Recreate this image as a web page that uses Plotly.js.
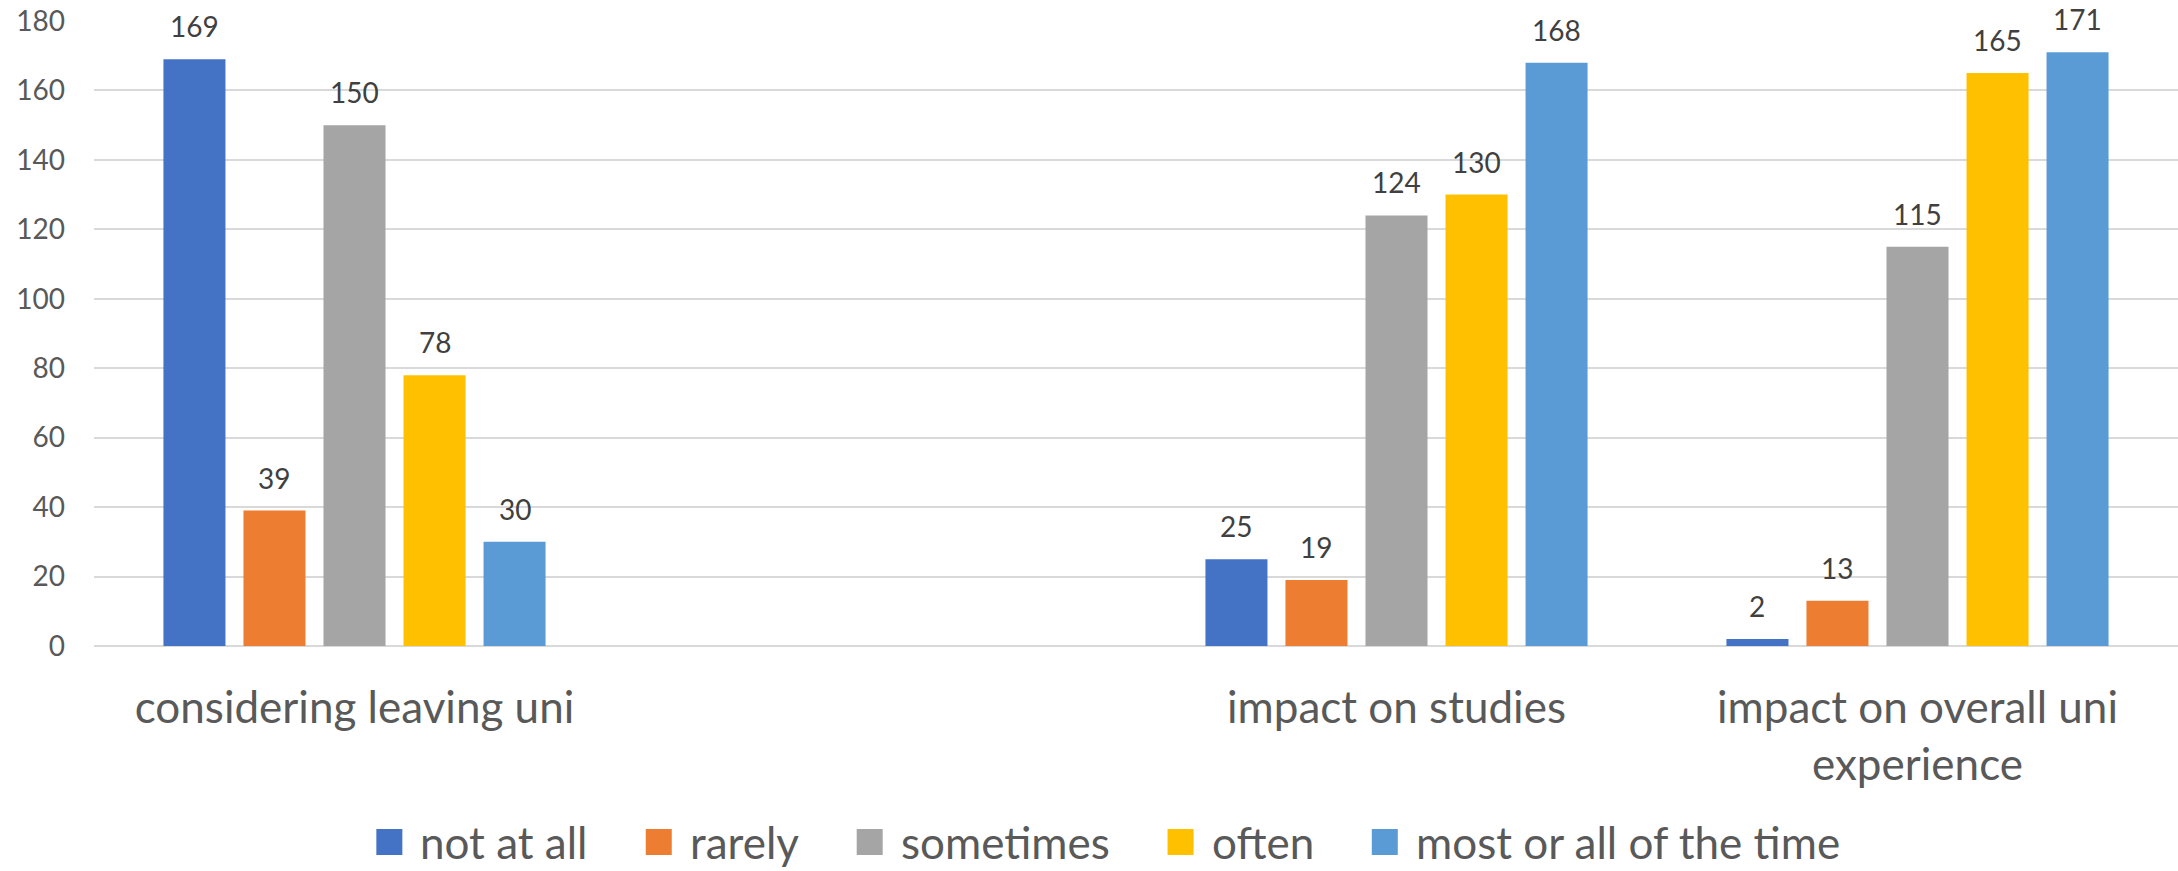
<!DOCTYPE html>
<html>
<head>
<meta charset="utf-8">
<script src="https://cdn.plot.ly/plotly-3.0.1.min.js"></script>
<style>
  html, body { margin: 0; padding: 0; background: #ffffff; }
  #chart { width: 2178px; height: 871px; }
</style>
</head>
<body>
<div id="chart"></div>
<script>
// Survey responses grouped by question; the second slot is an intentional empty spacer category.
const categories = ["considering leaving uni", " ", "impact on studies", "impact on overall uni<br>experience"];
const seriesNames = ["not at all", "rarely", "sometimes", "often", "most or all of the time"];
const notAtAll  = [169, null, 25, 2];
const rarely    = [39, null, 19, 13];
const sometimes = [150, null, 124, 115];
const often     = [78, null, 130, 165];
const mostOrAll = [30, null, 168, 171];
const yTicks = [0, 20, 40, 60, 80, 100, 120, 140, 160, 180];

const seriesValues = [notAtAll, rarely, sometimes, often, mostOrAll];
const colors = ["#4472C4", "#ED7D31", "#A5A5A5", "#FFC000", "#5B9BD5"];

const W = 2178, H = 871;
const M = { l: 94, r: 0, t: 21, b: 225 };
const plotW = W - M.l - M.r, plotH = H - M.t - M.b;
const BARGAP = 0.232;
const FONT = "Lato, 'Open Sans', sans-serif";
const LABEL_SIZE = 44;

const traces = seriesValues.map((vals, i) => ({
  type: "bar",
  name: seriesNames[i],
  x: categories,
  y: vals,
  marker: { color: colors[i], line: { width: 0 } },
  hoverinfo: "x+y+name",
  showlegend: false
}));

// Value labels above each bar, placed at the bar's slot inside its group.
const annotations = [];
const nSeries = seriesValues.length;
const slot = (1 - BARGAP) / nSeries;
seriesValues.forEach((vals, i) => {
  vals.forEach((v, j) => {
    if (v === null) return;
    annotations.push({
      xref: "x", yref: "y",
      x: j + (i - (nSeries - 1) / 2) * slot,
      y: v,
      text: String(v),
      showarrow: false,
      xanchor: "center", yanchor: "bottom",
      yshift: 14,
      font: { family: FONT, size: 28, color: "#404040" }
    });
  });
});

// Legend drawn as squares + labels, centred under the plot.
const shapes = [];
const ctx = document.createElement("canvas").getContext("2d");
ctx.font = LABEL_SIZE + "px Lato";
const SQ = 26, SQ_GAP = 16, ITEM_GAP = 60;
const widths = seriesNames.map(n => ctx.measureText(n).width);
const total = widths.reduce((a, b) => a + b, 0) + nSeries * (SQ + SQ_GAP) + (nSeries - 1) * ITEM_GAP;
let cx = 1108 - total / 2;
const legendMid = 842;
const px2x = p => (p - M.l) / plotW;
const py2y = p => (H - M.b - p) / plotH;
seriesNames.forEach((n, i) => {
  shapes.push({
    type: "rect", xref: "paper", yref: "paper",
    x0: px2x(cx), x1: px2x(cx + SQ),
    y0: py2y(legendMid + SQ / 2), y1: py2y(legendMid - SQ / 2),
    fillcolor: colors[i], line: { width: 0 }
  });
  annotations.push({
    xref: "paper", yref: "paper",
    x: px2x(cx + SQ + SQ_GAP), y: py2y(legendMid),
    xanchor: "left", yanchor: "middle",
    text: n, showarrow: false,
    font: { family: FONT, size: LABEL_SIZE, color: "#595959" }
  });
  cx += SQ + SQ_GAP + widths[i] + ITEM_GAP;
});

const layout = {
  width: W, height: H,
  margin: M,
  paper_bgcolor: "#ffffff",
  plot_bgcolor: "#ffffff",
  barmode: "group",
  bargap: BARGAP,
  bargroupgap: 0.225,
  showlegend: false,
  font: { family: FONT, color: "#595959" },
  xaxis: {
    type: "category",
    categoryorder: "array",
    categoryarray: categories,
    range: [-0.5, categories.length - 0.5],
    showgrid: false,
    showline: false,
    zeroline: false,
    ticks: "",
    tickfont: { family: FONT, size: LABEL_SIZE, color: "#595959" },
    ticklabelstandoff: 32,
    fixedrange: true
  },
  yaxis: {
    range: [0, 180],
    tickmode: "array",
    tickvals: yTicks,
    ticktext: yTicks.map(String),
    showgrid: true,
    gridcolor: "#D9D9D9",
    gridwidth: 2,
    zeroline: true,
    zerolinecolor: "#D9D9D9",
    zerolinewidth: 2,
    showline: false,
    ticks: "",
    tickfont: { family: FONT, size: 28, color: "#595959" },
    ticklabelstandoff: 28,
    fixedrange: true
  },
  annotations: annotations,
  shapes: shapes
};

Plotly.newPlot("chart", traces, layout, { displayModeBar: false, staticPlot: true });
</script>
</body>
</html>
